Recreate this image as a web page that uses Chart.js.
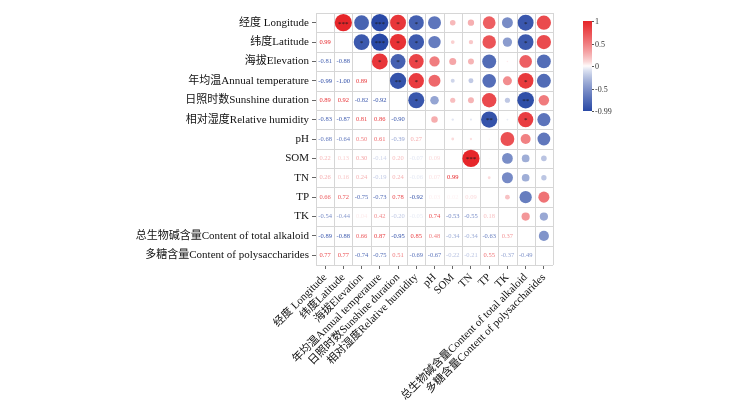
<!DOCTYPE html>
<html>
<head>
<meta charset="utf-8">
<script src="https://cdn.jsdelivr.net/npm/chart.js@4.4.1/dist/chart.umd.min.js"></script>
<style>
  body { margin: 0; background: #fff; }
  #wrap { width: 738px; height: 411px; }
</style>
</head>
<body>
<div id="wrap"><canvas id="corrChart"></canvas></div>
<script>
const varLabels = [
    '经度 Longitude',
    '纬度Latitude',
    '海拔Elevation',
    '年均温Annual temperature',
    '日照时数Sunshine duration',
    '相对湿度Relative humidity',
    'pH',
    'SOM',
    'TN',
    'TP',
    'TK',
    '总生物碱含量Content of total alkaloid',
    '多糖含量Content of polysaccharides'
];

// lower triangle, row i holds r(i, j) for j < i
const lowerValues = [
    [],
    [0.99],
    [-0.81, -0.88],
    [-0.99, -1.00, 0.89],
    [0.89, 0.92, -0.82, -0.92],
    [-0.83, -0.87, 0.81, 0.86, -0.90],
    [-0.68, -0.64, 0.50, 0.61, -0.39, 0.27],
    [0.22, 0.13, 0.30, -0.14, 0.20, -0.07, 0.09],
    [0.26, 0.16, 0.24, -0.19, 0.24, -0.06, 0.07, 0.99],
    [0.66, 0.72, -0.75, -0.73, 0.78, -0.92, 0.03, 0.02, 0.09],
    [-0.54, -0.44, 0.04, 0.42, -0.20, -0.05, 0.74, -0.53, -0.55, 0.18],
    [-0.89, -0.88, 0.66, 0.87, -0.95, 0.85, 0.48, -0.34, -0.34, -0.63, 0.37],
    [0.77, 0.77, -0.74, -0.75, 0.51, -0.69, -0.67, -0.22, -0.21, 0.55, -0.37, -0.49]
];

// significance marks in the upper triangle: [row, col, mark]
const sigMarks = [
    [0, 1, '***'], [0, 3, '***'], [0, 4, '*'], [0, 5, '*'], [0, 11, '*'],
    [1, 2, '*'], [1, 3, '***'], [1, 4, '*'], [1, 5, '*'], [1, 11, '*'],
    [2, 3, '*'], [2, 4, '*'], [2, 5, '*'],
    [3, 4, '**'], [3, 5, '*'], [3, 11, '*'],
    [4, 5, '*'], [4, 11, '**'],
    [5, 9, '**'], [5, 11, '*'],
    [7, 8, '***']
];

const colorbarTicks = [1, 0.5, 0, -0.5, -0.99];

const FONT = "'Liberation Serif', 'Noto Sans CJK SC', serif";
const posColor = [230, 36, 40];
const negColor = [40, 72, 165];

function corrColor(v) {
    const t = Math.pow(Math.min(Math.abs(v), 1), 0.75);
    const end = v >= 0 ? posColor : negColor;
    const c = end.map(e => Math.round(255 + (e - 255) * t));
    return `rgb(${c[0]},${c[1]},${c[2]})`;
}

const upperPoints = [];
lowerValues.forEach((row, i) => {
    row.forEach((v, j) => upperPoints.push({ x: i, y: j, v }));
});

const n = varLabels.length;

const corrPlugin = {
    id: 'corrPlugin',
    beforeDatasetsDraw(chart) {
        const { ctx, scales: { x, y } } = chart;
        ctx.save();
        ctx.strokeStyle = '#d6d6d6';
        ctx.lineWidth = 1;
        const top = y.getPixelForValue(-0.5);
        const bottom = y.getPixelForValue(n - 0.5);
        const left = x.getPixelForValue(-0.5);
        const right = x.getPixelForValue(n - 0.5);
        for (let k = 0; k <= n; k++) {
            const px = Math.round(x.getPixelForValue(k - 0.5)) + 0.5;
            ctx.beginPath();
            ctx.moveTo(px, top);
            ctx.lineTo(px, bottom);
            ctx.stroke();
            const py = Math.round(y.getPixelForValue(k - 0.5)) + 0.5;
            ctx.beginPath();
            ctx.moveTo(left, py);
            ctx.lineTo(right, py);
            ctx.stroke();
        }
        ctx.restore();
    },
    afterDatasetsDraw(chart) {
        const { ctx, scales: { x, y } } = chart;
        ctx.save();
        ctx.textAlign = 'center';
        ctx.textBaseline = 'middle';

        // numbers in the lower triangle
        ctx.font = `6.5px ${FONT}`;
        lowerValues.forEach((row, i) => {
            row.forEach((v, j) => {
                ctx.fillStyle = corrColor(v);
                ctx.fillText(v.toFixed(2), x.getPixelForValue(j), y.getPixelForValue(i));
            });
        });

        // significance stars
        ctx.font = `7px ${FONT}`;
        ctx.fillStyle = '#1a1a1a';
        sigMarks.forEach(([r, c, mark]) => {
            ctx.fillText(mark, x.getPixelForValue(c), y.getPixelForValue(r) + 1);
        });

        // colour bar
        const barX = 583, barW = 9, barTop = 21, barBottom = 111;
        const vMax = colorbarTicks[0];
        const vMin = colorbarTicks[colorbarTicks.length - 1];
        const toY = v => barTop + (vMax - v) / (vMax - vMin) * (barBottom - barTop);
        const grad = ctx.createLinearGradient(0, barTop, 0, barBottom);
        for (let k = 0; k <= 20; k++) {
            const v = vMax - (vMax - vMin) * k / 20;
            grad.addColorStop(k / 20, corrColor(v));
        }
        ctx.fillStyle = grad;
        ctx.fillRect(barX, barTop, barW, barBottom - barTop);

        ctx.font = `8px ${FONT}`;
        ctx.textAlign = 'left';
        ctx.fillStyle = '#333';
        ctx.strokeStyle = '#555';
        colorbarTicks.forEach(v => {
            const ty = Math.round(toY(v)) + 0.5;
            ctx.beginPath();
            ctx.moveTo(barX + barW, ty);
            ctx.lineTo(barX + barW + 2, ty);
            ctx.stroke();
            ctx.fillText(String(v), barX + barW + 3, ty);
        });
        ctx.restore();
    }
};

function circleRadius(c) {
    if (!c.raw) return 0;
    const s = c.chart.scales.x;
    const cw = Math.abs(s.getPixelForValue(1) - s.getPixelForValue(0));
    return 0.475 * Math.pow(Math.abs(c.raw.v), 0.75) * cw;
}

function renderChart() {
    const ctx = document.getElementById('corrChart').getContext('2d');

    const axisTicks = s => { s.ticks = varLabels.map((_, i) => ({ value: i })); };

    new Chart(ctx, {
        type: 'scatter',
        data: {
            datasets: [{
                data: upperPoints,
                showLine: false,
                pointRadius: circleRadius,
                pointBackgroundColor: c => c.raw ? corrColor(c.raw.v) : 'transparent',
                pointBorderWidth: 0,
                pointBorderColor: 'transparent'
            }]
        },
        plugins: [corrPlugin],
        options: {
            responsive: true,
            maintainAspectRatio: false,
            devicePixelRatio: 1,
            animation: false,
            events: [],
            layout: { padding: { left: 116, top: 13, right: 185, bottom: 0 } },
            plugins: { legend: { display: false }, tooltip: { enabled: false } },
            scales: {
                x: {
                    type: 'linear',
                    min: -0.5,
                    max: n - 0.5,
                    afterBuildTicks: axisTicks,
                    afterFit: s => { s.height = 146; },
                    border: { display: false },
                    grid: { drawOnChartArea: false, tickLength: 4, color: '#666' },
                    ticks: {
                        autoSkip: false,
                        minRotation: 45,
                        maxRotation: 45,
                        padding: 2,
                        color: '#111',
                        font: { family: FONT, size: 11 },
                        callback: v => varLabels[v]
                    }
                },
                y: {
                    type: 'linear',
                    reverse: true,
                    min: -0.5,
                    max: n - 0.5,
                    afterBuildTicks: axisTicks,
                    afterFit: s => { s.width = 200; },
                    border: { display: false },
                    grid: { drawOnChartArea: false, tickLength: 4, color: '#666' },
                    ticks: {
                        autoSkip: false,
                        padding: 3,
                        color: '#111',
                        font: { family: FONT, size: 11 },
                        callback: v => varLabels[v]
                    }
                }
            }
        }
    });
}

document.addEventListener('DOMContentLoaded', renderChart);
</script>
</body>
</html>
